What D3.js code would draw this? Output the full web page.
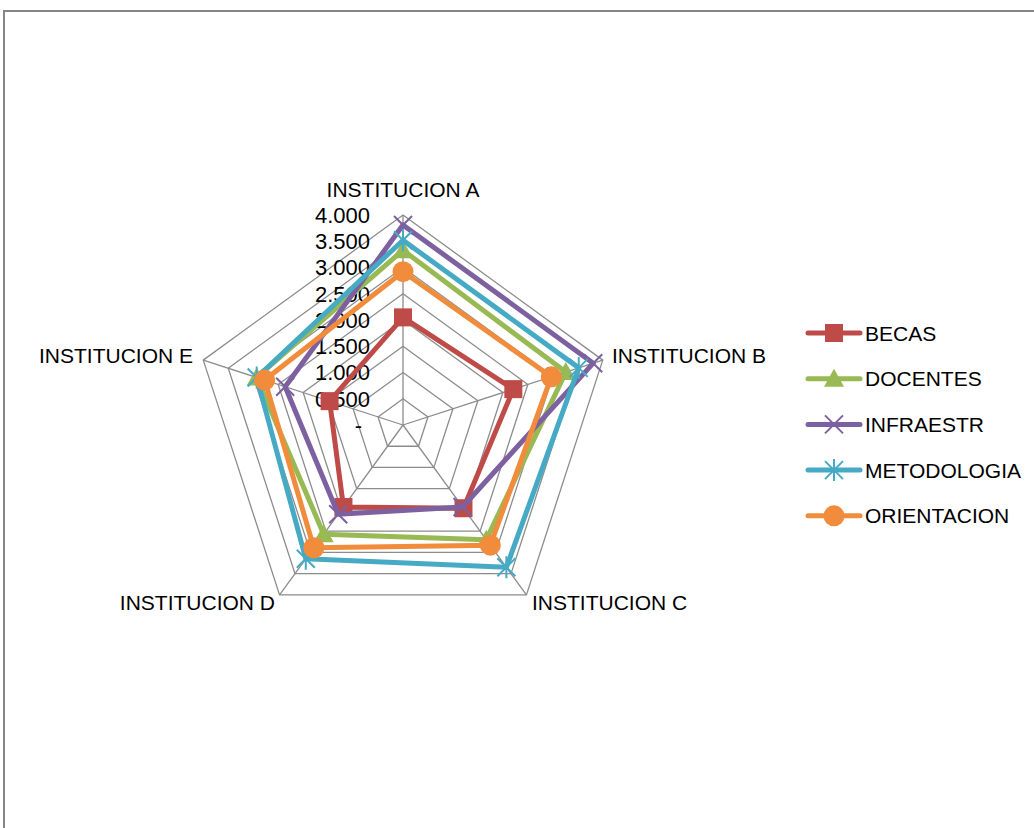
<!DOCTYPE html>
<html>
<head>
<meta charset="utf-8">
<script src="https://cdn.jsdelivr.net/npm/d3@7"></script>
<style>
  body { margin: 0; background: #fff; }
  svg { display: block; }
  text { font-family: "Liberation Sans", Arial, sans-serif; fill: #000; }
</style>
</head>
<body>
<script>
// data //
const categories = ["INSTITUCION A", "INSTITUCION B", "INSTITUCION C", "INSTITUCION D", "INSTITUCION E"];
const seriesNames = ["BECAS", "DOCENTES", "INFRAESTR", "METODOLOGIA", "ORIENTACION"];
const becas       = [2.05, 2.21, 1.96, 1.93, 1.47];
const docentes    = [3.33, 3.26, 2.70, 2.57, 2.93];
const infraestr   = [3.81, 3.81, 1.93, 2.10, 2.36];
const metodologia = [3.52, 3.52, 3.35, 3.15, 2.93];
const orientacion = [2.92, 2.97, 2.83, 2.89, 2.77];
const tickValues = [0, 0.5, 1, 1.5, 2, 2.5, 3, 3.5, 4];
const tickLabels = ["-", "0.500", "1.000", "1.500", "2.000", "2.500", "3.000", "3.500", "4.000"];

const colors = ["#BE4B48", "#98B954", "#7D60A0", "#46AAC5", "#F08C3C"];
const symbols = ["square", "triangle", "x", "star", "circle"];
const allValues = [becas, docentes, infraestr, metodologia, orientacion];

const width = 1034, height = 828;
const cx = 403, cy = 425;

const svg = d3.select("body").append("svg")
  .attr("width", width)
  .attr("height", height);

// chart border //
svg.append("rect")
  .attr("x", 4).attr("y", 11)
  .attr("width", 1100).attr("height", 900)
  .attr("fill", "none")
  .attr("stroke", "#868686")
  .attr("stroke-width", 2);

const g = svg.append("g").attr("transform", "translate(" + cx + "," + cy + ")");

const r = d3.scaleLinear().domain([0, 4]).range([0, 210]);
const angle = d3.scalePoint().domain(categories).range([0, 2 * Math.PI * 4 / 5]);

function pt(cat, v) {
  const a = angle(cat);
  return [Math.sin(a) * r(v), -Math.cos(a) * r(v)];
}

// grid rings //
const ring = d3.lineRadial()
  .angle(d => angle(d.c))
  .radius(d => r(d.v))
  .curve(d3.curveLinearClosed);

g.selectAll(".ring")
  .data(tickValues.slice(1))
  .enter().append("path")
  .attr("d", t => ring(categories.map(c => ({ c: c, v: t }))))
  .attr("fill", "none")
  .attr("stroke", "#8c8c8c")
  .attr("stroke-width", 1.3);

// spokes //
g.selectAll(".spoke")
  .data(categories)
  .enter().append("line")
  .attr("x1", 0).attr("y1", 0)
  .attr("x2", c => pt(c, 4)[0])
  .attr("y2", c => pt(c, 4)[1])
  .attr("stroke", "#8c8c8c")
  .attr("stroke-width", 1.3);

// tick labels //
g.selectAll(".tick")
  .data(tickValues)
  .enter().append("text")
  .attr("x", (d, i) => i === 0 ? -41 : -33)
  .attr("y", d => -r(d))
  .attr("dy", "0.36em")
  .attr("text-anchor", "end")
  .style("font-size", "22px")
  .text((d, i) => tickLabels[i]);

// category labels //
const catPos = [
  { x: 0, y: -236, anchor: "middle" },
  { x: 209, y: -70, anchor: "start" },
  { x: 129, y: 177, anchor: "start" },
  { x: -128, y: 177, anchor: "end" },
  { x: -210, y: -70, anchor: "end" }
];
g.selectAll(".cat")
  .data(categories)
  .enter().append("text")
  .attr("x", (d, i) => catPos[i].x)
  .attr("y", (d, i) => catPos[i].y)
  .attr("dy", "0.36em")
  .attr("text-anchor", (d, i) => catPos[i].anchor)
  .style("font-size", "21px")
  .text(d => d);

// markers //
function drawMarker(sel, type, color) {
  if (type === "square") {
    sel.append("rect").attr("x", -9).attr("y", -9).attr("width", 18).attr("height", 18)
      .attr("fill", color);
  } else if (type === "triangle") {
    sel.append("path").attr("d", "M0,-10L10,8L-10,8Z").attr("fill", color);
  } else if (type === "circle") {
    sel.append("circle").attr("r", 10.5).attr("fill", color);
  } else if (type === "x") {
    sel.append("path").attr("d", "M-9,-9L9,9M-9,9L9,-9")
      .attr("stroke", color).attr("stroke-width", 2).attr("fill", "none");
  } else if (type === "star") {
    sel.append("path").attr("d", "M-9,-9L9,9M-9,9L9,-9M0,-11L0,11")
      .attr("stroke", color).attr("stroke-width", 2).attr("fill", "none");
  }
}

// series //
const line = d3.lineRadial()
  .angle((d, i) => angle(categories[i]))
  .radius(d => r(d))
  .curve(d3.curveLinearClosed);

allValues.forEach((vals, s) => {
  const sg = g.append("g");
  sg.append("path")
    .attr("d", line(vals))
    .attr("fill", "none")
    .attr("stroke", colors[s])
    .attr("stroke-width", 5)
    .attr("stroke-linejoin", "round");
  vals.forEach((v, i) => {
    const p = pt(categories[i], v);
    const m = sg.append("g").attr("transform", "translate(" + p[0] + "," + p[1] + ")");
    drawMarker(m, symbols[s], colors[s]);
  });
});

// legend //
const legend = svg.append("g").attr("transform", "translate(808,333)");
seriesNames.forEach((name, i) => {
  const row = legend.append("g").attr("transform", "translate(0," + (i * 45.7) + ")");
  row.append("line")
    .attr("x1", 0).attr("x2", 52).attr("y1", 0).attr("y2", 0)
    .attr("stroke", colors[i]).attr("stroke-width", 5).attr("stroke-linecap", "round");
  const m = row.append("g").attr("transform", "translate(26,0)");
  drawMarker(m, symbols[i], colors[i]);
  row.append("text")
    .attr("x", 57).attr("y", 0).attr("dy", "0.36em")
    .style("font-size", "21px")
    .text(name);
});
</script>
</body>
</html>
